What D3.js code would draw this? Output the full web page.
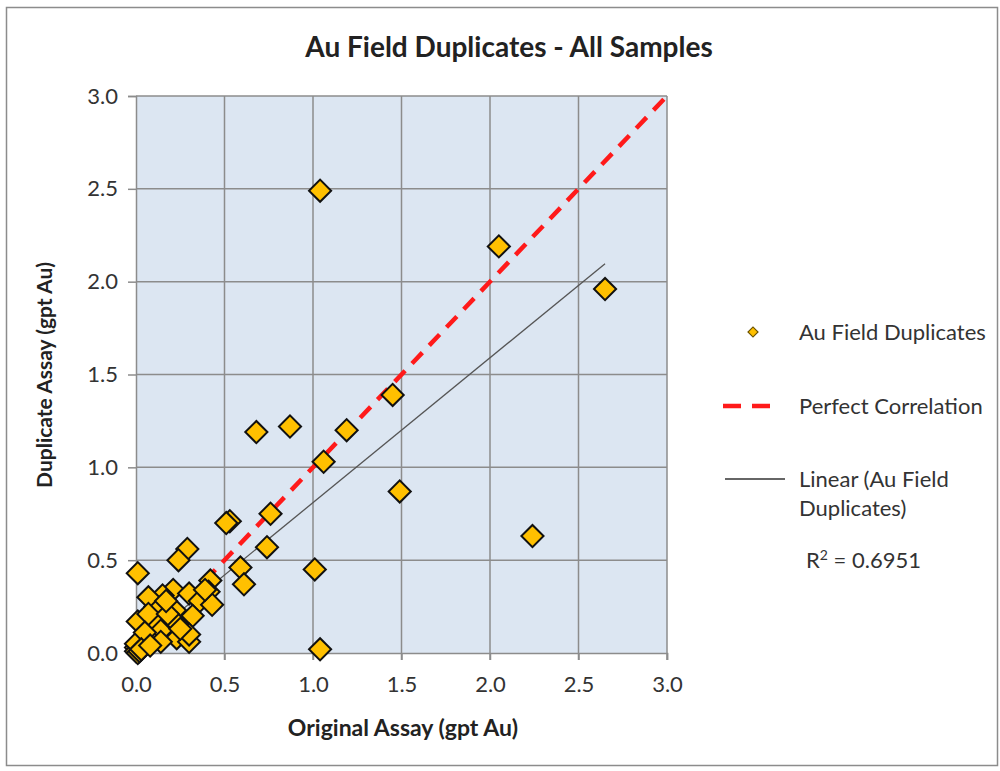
<!DOCTYPE html>
<html lang="en">
<head>
<meta charset="UTF-8">
<title>Au Field Duplicates</title>
<style>
    body { margin: 0; background: #fff; font-family: Lato, "Open Sans", sans-serif; }
    .tick text { font-size: 22px; fill: #333; }
</style>
</head>
<body>
<div id="chart"></div>
<script src="https://cdnjs.cloudflare.com/ajax/libs/d3/7.8.5/d3.min.js"></script>
<script>
// Data
const origAssay = [1.04, 2.05, 2.65, 1.45, 1.19, 0.87, 0.68, 1.06, 1.49, 2.24,
    0.76, 0.53, 0.51, 0.74, 0.29, 0.24, 0.01, 0.59, 0.61, 1.01,
    1.04, 0.42, 0.41, 0.21, 0.15, 0.30, 0.36, 0.43, 0.11, 0.22,
    0.32, 0.01, 0.12, 0.23, 0.28, 0.14, 0.23, 0.30, 0.08, 0.14,
    0.02, 0.00, 0.07, 0.07, 0.18, 0.17, 0.00, 0.00, 0.05, 0.39,
    0.01, 0.02, 0.03, 0.08, 0.30, 0.25];
const dupAssay = [2.49, 2.19, 1.96, 1.39, 1.20, 1.22, 1.19, 1.03, 0.87, 0.63,
    0.75, 0.71, 0.70, 0.57, 0.56, 0.50, 0.43, 0.46, 0.37, 0.45,
    0.02, 0.39, 0.33, 0.34, 0.31, 0.32, 0.28, 0.26, 0.25, 0.23,
    0.20, 0.17, 0.16, 0.16, 0.11, 0.12, 0.08, 0.06, 0.07, 0.06,
    0.03, 0.03, 0.30, 0.21, 0.21, 0.28, 0.01, 0.05, 0.11, 0.34,
    0.00, 0.01, 0.02, 0.04, 0.10, 0.13];
const axisTicks = [0, 0.5, 1.0, 1.5, 2.0, 2.5, 3.0];
const trendSlope = 0.78;
const trendIntercept = 0.03;
const rSquared = "0.6951";

const W = 1000, H = 771;
const svg = d3.select("#chart").append("svg")
    .attr("width", W).attr("height", H);

// chart area border
svg.append("rect")
    .attr("x", 6.5).attr("y", 7.5).attr("width", 991).attr("height", 758)
    .attr("fill", "#fff").attr("stroke", "#8c8c8c").attr("stroke-width", 1.5);

const x = d3.scaleLinear().domain([0, 3]).range([136, 667]);
const y = d3.scaleLinear().domain([0, 3]).range([653, 96]);

// plot background
svg.append("rect")
    .attr("x", x(0)).attr("y", y(3))
    .attr("width", x(3) - x(0)).attr("height", y(0) - y(3))
    .attr("fill", "#dce6f2");

// gridlines
const grid = svg.append("g");
grid.selectAll(".vg").data(axisTicks.slice(1)).enter().append("line")
    .attr("x1", d => x(d)).attr("x2", d => x(d))
    .attr("y1", y(3)).attr("y2", y(0) + 7)
    .attr("stroke", "#8c8c8c").attr("stroke-width", 1.5);
grid.selectAll(".hg").data(axisTicks.slice(1)).enter().append("line")
    .attr("x1", x(0)).attr("x2", x(3))
    .attr("y1", d => y(d)).attr("y2", d => y(d))
    .attr("stroke", "#8c8c8c").attr("stroke-width", 1.5);

// axes
const xAxis = svg.append("g")
    .attr("transform", `translate(0,${y(0)})`)
    .call(d3.axisBottom(x).tickValues(axisTicks).tickFormat(d3.format(".1f")).tickSize(7).tickPadding(16));
const yAxis = svg.append("g")
    .attr("transform", `translate(${x(0)},0)`)
    .call(d3.axisLeft(y).tickValues(axisTicks).tickFormat(d3.format(".1f")).tickSize(8).tickPadding(10));
[xAxis, yAxis].forEach(a => {
    a.selectAll("line").attr("stroke", "#8c8c8c").attr("stroke-width", 1.5);
    a.select(".domain").attr("stroke", "#8c8c8c").attr("stroke-width", 1.5);
    a.selectAll("text").style("font-family", "Lato, sans-serif");
});

// perfect correlation line
svg.append("line")
    .attr("x1", x(0)).attr("y1", y(0)).attr("x2", x(3)).attr("y2", y(3))
    .attr("stroke", "#ff1a1a").attr("stroke-width", 4.5)
    .attr("stroke-dasharray", "15,10");

// linear trend line
const xMin = d3.min(origAssay), xMax = d3.max(origAssay);
svg.append("line")
    .attr("x1", x(xMin)).attr("y1", y(trendIntercept + trendSlope * xMin))
    .attr("x2", x(xMax)).attr("y2", y(trendIntercept + trendSlope * xMax))
    .attr("stroke", "#555").attr("stroke-width", 1.3);

// data points
svg.append("g").selectAll("path")
    .data(origAssay.map((v, i) => ({ x: v, y: dupAssay[i] })))
    .enter().append("path")
    .attr("d", d3.symbol().type(d3.symbolSquare).size(245))
    .attr("transform", d => `translate(${x(d.x)},${y(d.y)}) rotate(45)`)
    .attr("fill", "#ffc000").attr("stroke", "#111").attr("stroke-width", 2);

// title
svg.append("text")
    .attr("x", 509).attr("y", 57).attr("text-anchor", "middle")
    .style("font-size", "28px").style("font-weight", "bold").attr("fill", "#222")
    .text("Au Field Duplicates - All Samples");

// axis titles
svg.append("text")
    .attr("x", 403).attr("y", 736).attr("text-anchor", "middle")
    .style("font-size", "23px").style("font-weight", "bold").attr("fill", "#222")
    .text("Original Assay (gpt Au)");
svg.append("text")
    .attr("transform", "translate(52,375) rotate(-90)").attr("text-anchor", "middle")
    .style("font-size", "21px").style("font-weight", "bold").attr("fill", "#222")
    .text("Duplicate Assay (gpt Au)");

// legend
const leg = svg.append("g").style("font-size", "22px").attr("fill", "#333");
leg.append("path")
    .attr("d", d3.symbol().type(d3.symbolSquare).size(50))
    .attr("transform", "translate(753,332) rotate(45)")
    .attr("fill", "#ffc000").attr("stroke", "#6b5200").attr("stroke-width", 1.2);
leg.append("text").attr("x", 799).attr("y", 340).text("Au Field Duplicates");
leg.append("line")
    .attr("x1", 723).attr("x2", 778).attr("y1", 406).attr("y2", 406)
    .attr("stroke", "#ff1a1a").attr("stroke-width", 4.5).attr("stroke-dasharray", "18,11");
leg.append("text").attr("x", 799).attr("y", 414).text("Perfect Correlation");
leg.append("line")
    .attr("x1", 725).attr("x2", 785).attr("y1", 479).attr("y2", 479)
    .attr("stroke", "#333").attr("stroke-width", 1.3);
leg.append("text").attr("x", 799).attr("y", 487).text("Linear (Au Field");
leg.append("text").attr("x", 799).attr("y", 516).text("Duplicates)");
const r2 = leg.append("text").attr("x", 806).attr("y", 568);
r2.append("tspan").text("R");
r2.append("tspan").attr("dy", -8).style("font-size", "14px").text("2");
r2.append("tspan").attr("dy", 8).text(" = " + rSquared);
</script>
</body>
</html>
